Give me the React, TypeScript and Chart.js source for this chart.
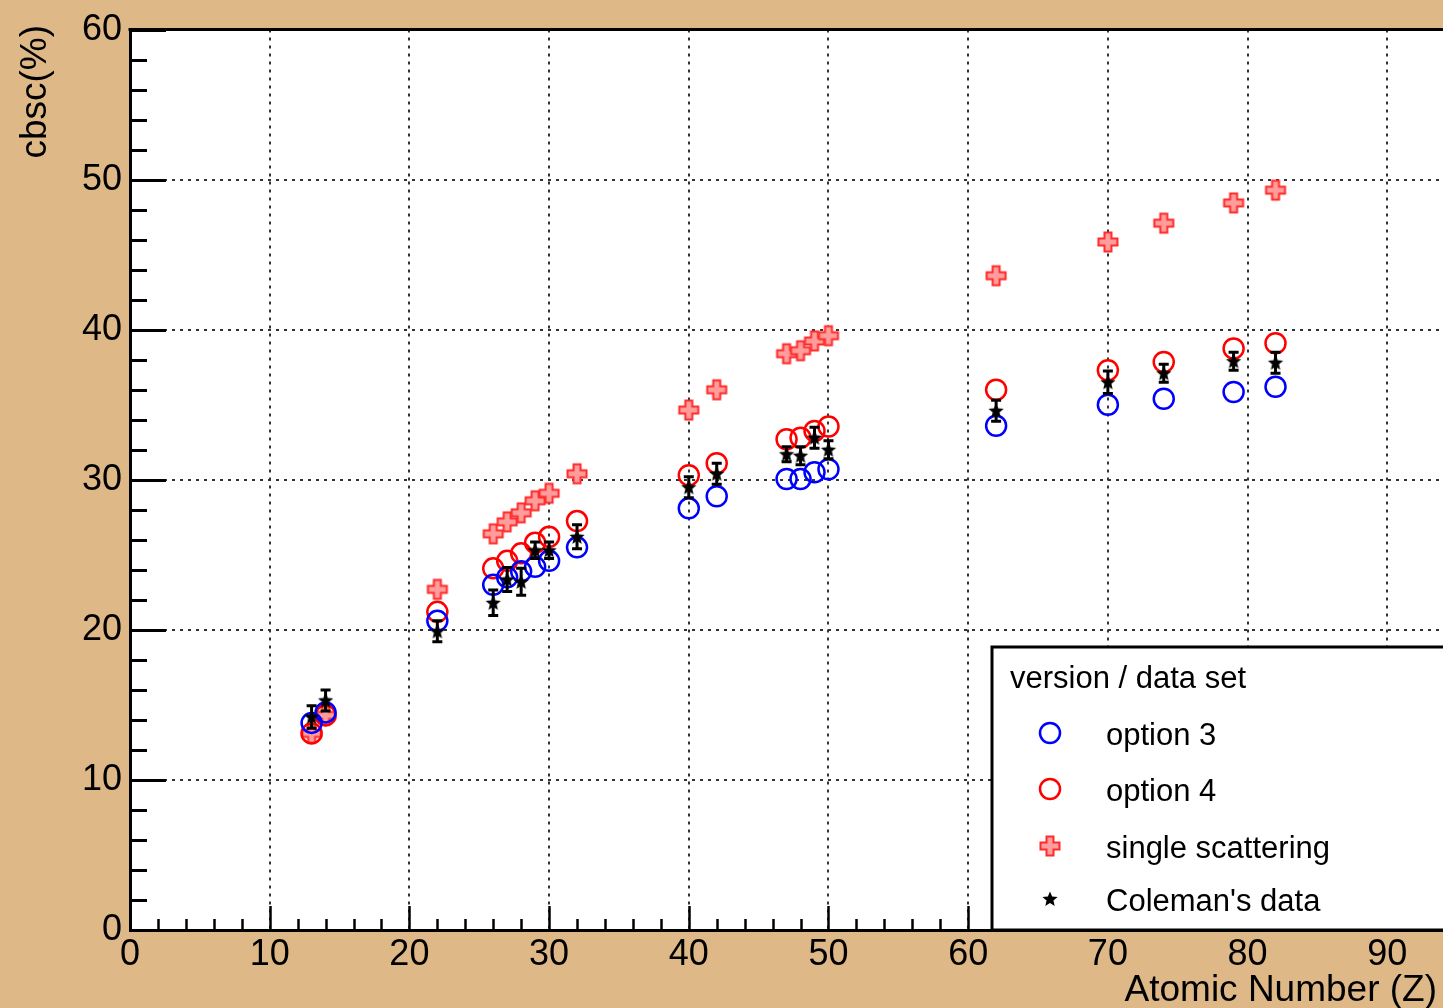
import React, { useEffect, useRef } from "react";
import { Chart, registerables } from "chart.js";

Chart.register(...registerables);

// Atomic numbers of the measured targets
const atomicNumbers = [13, 14, 22, 26, 27, 28, 29, 30, 32, 40, 42, 47, 48, 49, 50, 62, 70, 74, 79, 82];
// Simulated back-scattering coefficients (%)
const option3 = [13.8, 14.5, 20.6, 23.0, 23.5, 23.9, 24.2, 24.6, 25.5, 28.1, 28.9, 30.05, 30.05, 30.5, 30.7, 33.6, 35.0, 35.4, 35.85, 36.2];
const option4 = [13.1, 14.3, 21.2, 24.1, 24.6, 25.1, 25.8, 26.2, 27.25, 30.3, 31.1, 32.7, 32.8, 33.25, 33.55, 36.0, 37.3, 37.85, 38.75, 39.1];
const singleScattering = [13.1, 14.3, 22.7, 26.4, 27.2, 27.8, 28.6, 29.1, 30.4, 34.65, 36.0, 38.4, 38.6, 39.25, 39.6, 43.6, 45.85, 47.1, 48.45, 49.3];
// Coleman's measurements with their uncertainties
const colemanValues = [14.2, 15.3, 19.9, 21.8, 23.35, 23.2, 25.3, 25.3, 26.2, 29.5, 30.4, 31.7, 31.6, 32.8, 32.0, 34.6, 36.5, 37.1, 37.9, 37.8];
const colemanErrors = [0.75, 0.7, 0.7, 0.85, 0.8, 0.9, 0.55, 0.55, 0.8, 0.7, 0.7, 0.5, 0.6, 0.7, 0.6, 0.7, 0.75, 0.6, 0.6, 0.7];

// Axis ticks
const xTickValues = [0, 10, 20, 30, 40, 50, 60, 70, 80, 90, 100];
const yTickValues = [0, 10, 20, 30, 40, 50, 60];

const xTitle = "Atomic Number (Z)";
const yTitle = "cbsc(%)";
const legendHeader = "version / data set";
const legendLabels = ["option 3", "option 4", "single scattering", "Coleman's data"];

const FONT = "'Liberation Sans', Arial, Helvetica, sans-serif";
const PAD_BG = "#DEB887";
const CANVAS_W = 1560;
const CANVAS_H = 1008;

function makeCross(): HTMLCanvasElement {
  const c = document.createElement("canvas");
  c.width = 24;
  c.height = 24;
  const g = c.getContext("2d")!;
  const m = 12, a = 3.5, l = 9.5;
  g.beginPath();
  g.moveTo(m - a, m - l);
  g.lineTo(m + a, m - l);
  g.lineTo(m + a, m - a);
  g.lineTo(m + l, m - a);
  g.lineTo(m + l, m + a);
  g.lineTo(m + a, m + a);
  g.lineTo(m + a, m + l);
  g.lineTo(m - a, m + l);
  g.lineTo(m - a, m + a);
  g.lineTo(m - l, m + a);
  g.lineTo(m - l, m - a);
  g.lineTo(m - a, m - a);
  g.closePath();
  g.fillStyle = "#ff9c9c";
  g.fill();
  g.strokeStyle = "#ff2a2a";
  g.lineWidth = 2;
  g.stroke();
  return c;
}

function makeStar(): HTMLCanvasElement {
  const c = document.createElement("canvas");
  c.width = 18;
  c.height = 18;
  const g = c.getContext("2d")!;
  const cx = 9, cy = 9.5, ro = 8, ri = 3.6;
  g.beginPath();
  for (let i = 0; i < 10; i++) {
    const r = i % 2 === 0 ? ro : ri;
    const ang = -Math.PI / 2 + (i * Math.PI) / 5;
    const px = cx + r * Math.cos(ang);
    const py = cy + r * Math.sin(ang);
    if (i === 0) g.moveTo(px, py);
    else g.lineTo(px, py);
  }
  g.closePath();
  g.fillStyle = "#000";
  g.fill();
  return c;
}

export default function App() {
  const canvasRef = useRef<HTMLCanvasElement | null>(null);

  useEffect(() => {
    const canvas = canvasRef.current;
    if (!canvas) return;
    const crossImg = makeCross();
    const starImg = makeStar();

    const toPoints = (ys: number[]) => atomicNumbers.map((z, i) => ({ x: z, y: ys[i] }));

    const padPlugin = {
      id: "rootPad",
      beforeDraw(chart: any) {
        const { ctx, chartArea } = chart;
        ctx.save();
        ctx.fillStyle = PAD_BG;
        ctx.fillRect(0, 0, chart.width, chart.height);
        ctx.fillStyle = "#fff";
        ctx.fillRect(chartArea.left, chartArea.top, chartArea.right - chartArea.left, chartArea.bottom - chartArea.top);
        ctx.restore();
      },
      beforeDatasetsDraw(chart: any) {
        const { ctx, chartArea, scales } = chart;
        const xs = scales.x, ys = scales.y;
        ctx.save();
        ctx.strokeStyle = "#000";
        ctx.lineWidth = 3;
        // inward ticks on the y axis, every 2 units
        for (let v = 0; v <= 60; v += 2) {
          const py = Math.round(ys.getPixelForValue(v)) + 0.5;
          const len = v % 10 === 0 ? 36 : 17;
          ctx.beginPath();
          ctx.moveTo(chartArea.left, py);
          ctx.lineTo(chartArea.left + len, py);
          ctx.stroke();
        }
        // inward ticks on the x axis, every 2 units
        ctx.lineWidth = 2.5;
        for (let v = 0; v <= 100; v += 2) {
          const px = Math.round(xs.getPixelForValue(v)) + 0.5;
          const len = v % 10 === 0 ? 24 : 11;
          ctx.beginPath();
          ctx.moveTo(px, chartArea.bottom);
          ctx.lineTo(px, chartArea.bottom - len);
          ctx.stroke();
        }
        ctx.restore();
      },
      beforeDatasetDraw(chart: any, args: any) {
        if (args.index !== 0) return;
        const { ctx, scales } = chart;
        const xs = scales.x, ys = scales.y;
        ctx.save();
        ctx.strokeStyle = "#000";
        ctx.lineWidth = 3;
        atomicNumbers.forEach((z, i) => {
          const px = xs.getPixelForValue(z);
          const top = ys.getPixelForValue(colemanValues[i] + colemanErrors[i]);
          const bot = ys.getPixelForValue(colemanValues[i] - colemanErrors[i]);
          ctx.beginPath();
          ctx.moveTo(px, top);
          ctx.lineTo(px, bot);
          ctx.moveTo(px - 5, top);
          ctx.lineTo(px + 5, top);
          ctx.moveTo(px - 5, bot);
          ctx.lineTo(px + 5, bot);
          ctx.stroke();
        });
        ctx.restore();
      },
      afterDraw(chart: any) {
        const { ctx, chartArea } = chart;
        ctx.save();
        // top frame line
        ctx.strokeStyle = "#000";
        ctx.lineWidth = 3;
        ctx.beginPath();
        ctx.moveTo(chartArea.left - 1.5, chartArea.top);
        ctx.lineTo(chartArea.right, chartArea.top);
        ctx.stroke();

        // axis titles
        ctx.fillStyle = "#000";
        ctx.font = `37px ${FONT}`;
        ctx.textAlign = "right";
        ctx.textBaseline = "alphabetic";
        ctx.fillText(xTitle, 1437, 1001);
        ctx.save();
        ctx.translate(46, 25);
        ctx.rotate(-Math.PI / 2);
        ctx.textAlign = "right";
        ctx.fillText(yTitle, 0, 0);
        ctx.restore();

        // legend box
        const lx = 992, ly = 647, lb = chartArea.bottom;
        ctx.fillStyle = "#fff";
        ctx.fillRect(lx, ly, chart.width - lx, lb - ly);
        ctx.strokeStyle = "#000";
        ctx.lineWidth = 3;
        ctx.strokeRect(lx, ly, chart.width - lx + 10, lb - ly);

        ctx.fillStyle = "#000";
        ctx.font = `31px ${FONT}`;
        ctx.textAlign = "left";
        ctx.fillText(legendHeader, 1010, 688);
        const baselines = [745, 801, 858, 911];
        const mx = 1050;
        legendLabels.forEach((label, i) => {
          const by = baselines[i];
          const my = by - 12;
          if (i === 0 || i === 1) {
            ctx.beginPath();
            ctx.arc(mx, my, 10, 0, Math.PI * 2);
            ctx.strokeStyle = i === 0 ? "#0000ff" : "#ff0000";
            ctx.lineWidth = 2.5;
            ctx.stroke();
          } else if (i === 2) {
            ctx.drawImage(crossImg, mx - 12, my - 12);
          } else {
            ctx.drawImage(starImg, mx - 9, my - 9);
          }
          ctx.fillStyle = "#000";
          ctx.fillText(label, 1106, by);
        });
        ctx.restore();
      },
    };

    const chart = new Chart(canvas, {
      type: "scatter",
      data: {
        datasets: [
          {
            label: legendLabels[3],
            data: toPoints(colemanValues),
            pointStyle: starImg as any,
            pointRadius: 8,
            showLine: false,
          },
          {
            label: legendLabels[0],
            data: toPoints(option3),
            pointStyle: "circle",
            pointRadius: 10,
            pointBorderWidth: 2.5,
            borderColor: "#0000ff",
            backgroundColor: "rgba(0,0,0,0)",
            showLine: false,
          },
          {
            label: legendLabels[1],
            data: toPoints(option4),
            pointStyle: "circle",
            pointRadius: 10,
            pointBorderWidth: 2.5,
            borderColor: "#ff0000",
            backgroundColor: "rgba(0,0,0,0)",
            showLine: false,
          },
          {
            label: legendLabels[2],
            data: toPoints(singleScattering),
            pointStyle: crossImg as any,
            pointRadius: 10,
            showLine: false,
          },
        ],
      },
      options: {
        responsive: false,
        maintainAspectRatio: false,
        devicePixelRatio: 1,
        animation: false,
        events: [],
        layout: { padding: { top: 29, right: CANVAS_W - 1527, left: 0, bottom: 0 } },
        plugins: {
          legend: { display: false },
          tooltip: { enabled: false },
          title: { display: false },
        },
        scales: {
          x: {
            type: "linear",
            min: 0,
            max: 100,
            afterFit: (s: any) => {
              s.height = 78;
            },
            afterBuildTicks: (s: any) => {
              s.ticks = xTickValues.map((v) => ({ value: v }));
            },
            grid: { color: "#333", lineWidth: 2, drawTicks: false },
            border: { display: true, color: "#000", width: 3, dash: [3, 5] },
            ticks: {
              padding: 3,
              color: "#000",
              font: { family: FONT, size: 36 },
              maxRotation: 0,
              autoSkip: false,
              callback: (v: any) => String(v),
            },
          },
          y: {
            type: "linear",
            min: 0,
            max: 60,
            afterFit: (s: any) => {
              s.width = 130;
            },
            afterBuildTicks: (s: any) => {
              s.ticks = yTickValues.map((v) => ({ value: v }));
            },
            grid: { color: "#333", lineWidth: 2, drawTicks: false },
            border: { display: true, color: "#000", width: 3, dash: [3, 5] },
            ticks: {
              padding: 8,
              color: "#000",
              font: { family: FONT, size: 36 },
              autoSkip: false,
              callback: (v: any) => String(v),
            },
          },
        },
      },
      plugins: [padPlugin],
    } as any);

    return () => {
      chart.destroy();
    };
  }, []);

  return (
    <div
      style={{
        position: "fixed",
        left: 0,
        top: 0,
        width: 1443,
        height: 1008,
        overflow: "hidden",
        background: PAD_BG,
      }}
    >
      <canvas ref={canvasRef} width={CANVAS_W} height={CANVAS_H} style={{ display: "block" }} />
    </div>
  );
}
